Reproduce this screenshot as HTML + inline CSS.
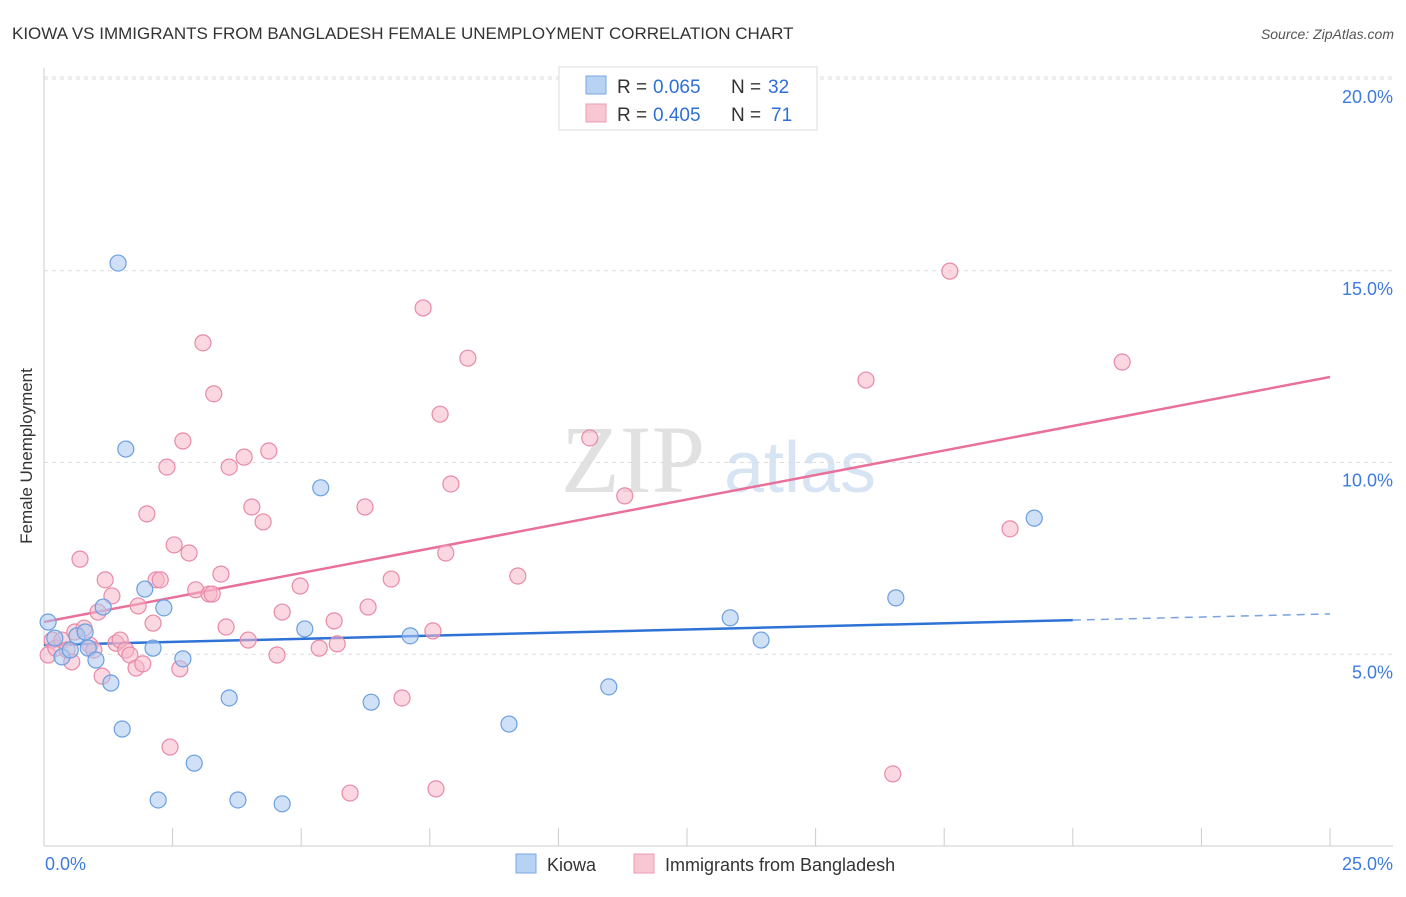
<!DOCTYPE html>
<html><head><meta charset="utf-8"><style>
body{margin:0;background:#fff;font-family:"Liberation Sans",sans-serif}
</style></head><body>
<svg width="1406" height="892" xmlns="http://www.w3.org/2000/svg" id="svg">
<text x="12" y="39" font-size="17" fill="#333">KIOWA VS IMMIGRANTS FROM BANGLADESH FEMALE UNEMPLOYMENT CORRELATION CHART</text>
<text x="1394" y="39" font-size="14" fill="#555" font-style="italic" text-anchor="end">Source: ZipAtlas.com</text>
<text x="32" y="456" font-size="17" fill="#333" text-anchor="middle" transform="rotate(-90 32 456)">Female Unemployment</text>
<g opacity="0.35"><text x="633" y="492" font-size="96" font-family="Liberation Serif" fill="#aaa" text-anchor="middle">ZIP</text><text x="800" y="492" font-size="72" fill="#8fb3e0" text-anchor="middle">atlas</text></g>
<g id="grid"></g><g id="lines"></g><g id="pts"></g>
<g>
<rect x="559" y="67" width="258" height="63" fill="#fff" stroke="#ddd"/>
<rect x="586" y="76" width="20" height="18" fill="#b8d2f3" stroke="#7aa8e2"/>
<rect x="586" y="104" width="20" height="18" fill="#f9c6d4" stroke="#ec9cb5"/>
<text x="617" y="93" font-size="19" fill="#333">R =</text>
<text x="653" y="93" font-size="19" fill="#2f6fd6">0.065</text>
<text x="731" y="93" font-size="19" fill="#333">N =</text>
<text x="768" y="93" font-size="19" fill="#2f6fd6">32</text>
<text x="617" y="121" font-size="19" fill="#333">R =</text>
<text x="653" y="121" font-size="19" fill="#2f6fd6">0.405</text>
<text x="731" y="121" font-size="19" fill="#333">N =</text>
<text x="771" y="121" font-size="19" fill="#2f6fd6">71</text>
</g>
<g>
<rect x="516" y="854" width="20" height="19" fill="#b8d2f3" stroke="#7aa8e2"/>
<text x="547" y="871" font-size="18" fill="#333">Kiowa</text>
<rect x="634" y="854" width="20" height="19" fill="#f9c6d4" stroke="#ec9cb5"/>
<text x="665" y="871" font-size="18" fill="#333">Immigrants from Bangladesh</text>
</g>
</svg>
<script>
const yTicks=[5,10,15,20];
const yTickLabels=["5.0%","10.0%","15.0%","20.0%"];
const xTickLabels=["0.0%","25.0%"];
const kiowaX=[0.08,0.21,0.35,0.51,0.64,0.80,0.86,1.01,1.15,1.30,1.44,1.52,1.59,1.96,2.12,2.22,2.33,2.70,2.92,3.60,3.77,4.63,5.07,5.38,6.36,7.12,9.04,10.98,13.34,13.94,16.56,19.25];
const kiowaY=[5.84,5.42,4.93,5.11,5.48,5.58,5.16,4.85,6.23,4.25,15.20,3.05,10.35,6.70,5.16,1.20,6.21,4.88,2.16,3.86,1.20,1.10,5.66,9.34,3.75,5.48,3.18,4.15,5.95,5.37,6.47,8.55];
const bangX=[0.08,0.16,0.23,0.35,0.45,0.54,0.60,0.70,0.78,0.89,0.97,1.05,1.13,1.19,1.32,1.40,1.48,1.59,1.67,1.79,1.83,1.92,2.00,2.12,2.18,2.26,2.39,2.45,2.53,2.64,2.70,2.82,2.95,3.09,3.21,3.27,3.30,3.44,3.54,3.60,3.89,3.97,4.04,4.26,4.37,4.53,4.63,4.98,5.35,5.64,5.70,5.95,6.24,6.30,6.75,6.96,7.37,7.56,7.62,7.70,7.91,7.81,8.24,9.21,10.61,11.29,15.98,16.50,17.61,18.78,20.96];
const bangY=[4.98,5.37,5.16,5.37,5.11,4.80,5.58,7.48,5.68,5.24,5.11,6.10,4.43,6.94,6.52,5.29,5.37,5.11,4.98,4.64,6.26,4.75,8.66,5.81,6.94,6.94,9.88,2.58,7.85,4.62,10.56,7.64,6.68,13.12,6.57,6.57,11.79,7.09,5.71,9.88,10.14,5.37,8.84,8.45,10.30,4.98,6.10,6.78,5.16,5.87,5.27,1.38,8.84,6.23,6.96,3.86,14.03,5.61,1.49,11.26,9.44,7.64,12.72,7.04,10.64,9.13,12.15,1.88,14.99,8.27,12.62];
const kiowaFit=[5.24,0.0325];
const bangFit=[5.84,0.2556];
const NS="http://www.w3.org/2000/svg";
const X=v=>44+v*51.44, Y=v=>846-v*38.35;
function mk(t,a,p){const e=document.createElementNS(NS,t);for(const k in a)e.setAttribute(k,a[k]);document.getElementById(p).appendChild(e);return e;}
const g='grid';
yTicks.forEach((t,i)=>{
 const l=mk('line',{x1:44,x2:1393,y1:Y(t),y2:Y(t),stroke:'#ddd','stroke-dasharray':'4,4'},g);
 
 
 const tx=mk('text',{x:1393,y:Y(t)+24,'font-size':18,fill:'#3d7be0','text-anchor':'end'},g);tx.textContent=yTickLabels[i];
 
 
});
const topGrid=mk('line',{x1:44,x2:1393,y1:Y(20)-2,y2:Y(20)-2,stroke:'#ddd','stroke-dasharray':'4,4'},g);


const ya=mk('line',{x1:44,x2:44,y1:68,y2:846,stroke:'#ccc'},g);


const xa=mk('line',{x1:44,x2:1393,y1:846,y2:846,stroke:'#ccc'},g);


for(let i=1;i<=10;i++){const t=mk('line',{x1:X(i*2.5),x2:X(i*2.5),y1:828,y2:846,stroke:'#ccc'},g);
 
 }
const xl0=mk('text',{x:45,y:870,'font-size':18,fill:'#3d7be0'},g);xl0.textContent=xTickLabels[0];


const xl1=mk('text',{x:1393,y:870,'font-size':18,fill:'#3d7be0','text-anchor':'end'},g);xl1.textContent=xTickLabels[1];


function pts(xs,ys,fill,stroke,name){xs.forEach((x,i)=>{const c=mk('circle',{cx:X(x),cy:Y(ys[i]),r:8,fill:fill,'fill-opacity':0.55,stroke:stroke,'stroke-width':1.2},'pts');
 
 });}
pts(bangX,bangY,'#f6b6c8','#e88aa8','bangladesh-point');
pts(kiowaX,kiowaY,'#a9c8f0','#6a9fe0','kiowa-point');
const f=(fit,x)=>fit[0]+fit[1]*x;
const bl=mk('line',{x1:X(0),y1:Y(f(kiowaFit,0)),x2:X(20),y2:Y(f(kiowaFit,20)),stroke:'#2f72d6','stroke-width':2.5},'lines');


const bd=mk('line',{x1:X(20),y1:Y(f(kiowaFit,20)),x2:X(25),y2:Y(f(kiowaFit,25)),stroke:'#7aa3e0','stroke-width':1.5,'stroke-dasharray':'8,6'},'lines');


const pl=mk('line',{x1:X(0),y1:Y(f(bangFit,0)),x2:X(25),y2:Y(f(bangFit,25)),stroke:'#e8709a','stroke-width':2.5},'lines');


</script>
</body></html>
